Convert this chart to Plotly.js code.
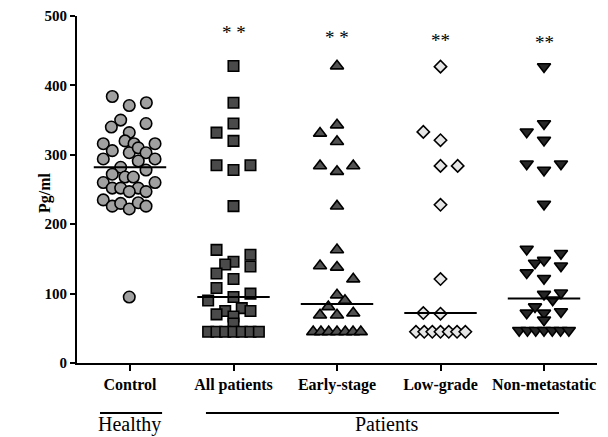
<!DOCTYPE html>
<html>
<head>
<meta charset="utf-8">
<script src="https://cdn.plot.ly/plotly-3.0.1.min.js"></script>
<style>html,body{margin:0;padding:0;background:#fff;}#chart{width:608px;height:437px;}</style>
</head>
<body>
<div id="chart"></div>
<script>
// ---- data ----
var categories = ["Control", "All patients", "Early-stage", "Low-grade", "Non-metastatic"];

var controlValues = [384,371,375,350,340,345,332,316,320,316,316,306,303,310,303,294,294,291,282,278,272,268,268,260,260,252,252,252,247,247,235,226,230,222,231,226,95];
var controlJitter = [-0.171,-0.007,0.158,-0.09,-0.18,0.155,-0.007,-0.258,-0.048,0.039,0.242,-0.171,-0.007,0.08,0.155,-0.258,0.242,0.08,-0.09,0.155,-0.171,-0.048,0.032,-0.258,0.242,-0.171,-0.09,0.08,-0.007,0.155,-0.258,-0.171,-0.09,-0.007,0.08,0.155,-0.007];

var allValues = [428,375,345,332,320,285,278,285,226,163,156,139,146,142,129,121,108,100,95,90,79,75,75,70,67,57,45,45,45,45,45,45,45];
var allJitter = [0,0,0,-0.164,0,-0.164,0,0.164,0,-0.164,0.164,0.164,0,-0.08,-0.164,0,-0.164,0.164,0,-0.245,0.08,-0.08,0.164,-0.164,0,0,-0.245,-0.164,-0.08,0,0.08,0.164,0.245];

var earlyValues = [428,331,343,319,284,276,284,226,163,140,138,121,98,90,81,69,69,72,45,45,45,45,45,45,45];
var earlyJitter = [0,-0.164,0,0,-0.164,0,0.157,0,0,-0.164,0,0.157,0,0.077,-0.084,-0.164,0,0.157,-0.23,-0.155,-0.08,0,0.08,0.155,0.23];

var lowValues = [427,333,321,284,284,228,121,72,71,45,45,45,45,45,45,45];
var lowJitter = [0,-0.166,0,0,0.166,0,0,-0.166,0,-0.237,-0.157,-0.079,0,0.08,0.16,0.24];

var nonmetValues = [427,333,345,321,287,278,287,229,164,158,140,144,148,130,122,99,101,91,81,74,72,72,62,47,47,47,47,47,47,47];
var nonmetJitter = [0,-0.167,0,0,-0.167,0,0.164,0,-0.167,0.164,0.164,-0.087,0,-0.167,0,0,0.164,0.084,-0.087,0.164,-0.167,0,0,-0.24,-0.16,-0.08,0,0.08,0.16,0.24];

var medians = [282, 95, 85, 72, 93];
var significance = ["", "* *", "* *", "**", "**"];
var groupLabels = ["Healthy", "Patients"];
var yTitle = "Pg/ml";

// ---- styles ----
var groups = [
  {v: controlValues, j: controlJitter, symbol: "circle", color: "#a0a0a0", size: 11.5},
  {v: allValues, j: allJitter, symbol: "square", color: "#4a4a4a", size: 10.5},
  {v: earlyValues, j: earlyJitter, symbol: "triangle-up", color: "#525252", size: 11.5},
  {v: lowValues, j: lowJitter, symbol: "diamond", color: "#e6e6e6", size: 9.5},
  {v: nonmetValues, j: nonmetJitter, symbol: "triangle-down", color: "#262626", size: 11.5}
];

var traces = [];
groups.forEach(function (g, i) {
  traces.push({
    type: "scatter", mode: "markers",
    x: g.j.map(function (d) { return i + d; }),
    y: g.v,
    marker: {symbol: g.symbol, size: g.size, color: g.color, line: {color: "#000", width: 1.6}},
    hoverinfo: "y", showlegend: false
  });
});
medians.forEach(function (m, i) {
  traces.push({
    type: "scatter", mode: "lines",
    x: [i - 0.35, i + 0.35], y: [m, m],
    line: {color: "#000", width: 2},
    hoverinfo: "skip", showlegend: false
  });
});

var serif = "Liberation Serif, Times New Roman, serif";
var annotations = [];
var sigPos = [0, 476, 469, 465, 462];
significance.forEach(function (s, i) {
  if (!s) return;
  annotations.push({
    x: i, y: sigPos[i], xref: "x", yref: "y", text: s, showarrow: false,
    yanchor: "middle", font: {family: serif, size: 19, color: "#000"}
  });
});
annotations.push({x: 0, y: -0.176, xref: "x", yref: "paper", text: groupLabels[0], showarrow: false,
  yanchor: "middle", font: {family: serif, size: 20, color: "#000"}});
annotations.push({x: 2.48, y: -0.176, xref: "x", yref: "paper", text: groupLabels[1], showarrow: false,
  yanchor: "middle", font: {family: serif, size: 20, color: "#000"}});
annotations.push({x: -0.0615, y: 0.49, xref: "paper", yref: "paper", text: yTitle, showarrow: false,
  textangle: -90, xanchor: "center", yanchor: "middle",
  font: {family: serif, size: 16, color: "#000", weight: "bold"}});

var shapes = [
  {type: "line", xref: "x", yref: "paper", x0: -0.29, x1: 0.31, y0: -0.144, y1: -0.144, line: {color: "#000", width: 2}},
  {type: "line", xref: "x", yref: "paper", x0: 0.734, x1: 4.145, y0: -0.144, y1: -0.144, line: {color: "#000", width: 2}}
];

var layout = {
  width: 608, height: 437,
  margin: {l: 77, r: 11, t: 16, b: 74},
  paper_bgcolor: "#fff", plot_bgcolor: "#fff",
  showlegend: false,
  xaxis: {
    range: [-0.512, 4.512], tickmode: "array", tickvals: [0, 1, 2, 3, 4], ticktext: categories,
    showline: true, linecolor: "#000", linewidth: 2, ticks: "outside", ticklen: 6, tickwidth: 2, tickcolor: "#000",
    showgrid: false, zeroline: false,
    tickfont: {family: serif, size: 16, color: "#000", weight: "bold"}
  },
  yaxis: {
    range: [0, 500], tickmode: "array", tickvals: [0, 100, 200, 300, 400, 500],
    showline: true, linecolor: "#000", linewidth: 2, ticks: "outside", ticklen: 5, tickwidth: 2, tickcolor: "#000",
    showgrid: false, zeroline: false,
    tickfont: {family: serif, size: 15, color: "#000", weight: "bold"}
  },
  annotations: annotations,
  shapes: shapes
};

Plotly.newPlot("chart", traces, layout, {displayModeBar: false, staticPlot: true});
</script>
</body>
</html>
